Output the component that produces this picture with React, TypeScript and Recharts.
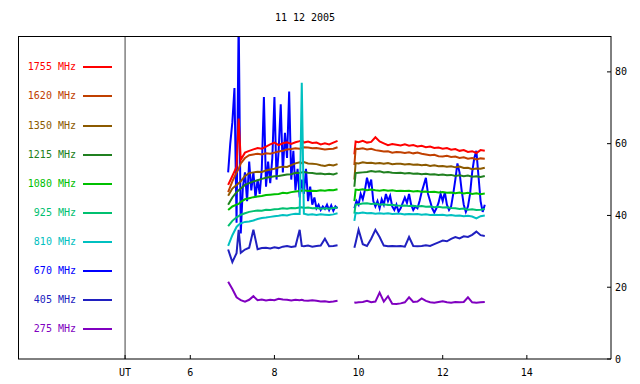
import React from "react";
import { LineChart, Line, XAxis, YAxis, ReferenceLine } from "recharts";

// hours UT; 9.7 is the data gap
const HOURS = [
  6.9, 7.0, 7.1, 7.15, 7.2, 7.3, 7.4, 7.5, 7.6, 7.7, 7.8, 7.9, 8.0, 8.1, 8.2, 8.3, 8.4, 8.5, 8.6, 8.65,
  8.7, 8.8, 8.9, 9.0, 9.1, 9.2, 9.3, 9.4, 9.5,
  9.7,
  9.9, 9.93, 10.0, 10.1, 10.2, 10.3, 10.4, 10.5, 10.6, 10.7, 10.8, 10.9, 11.0, 11.1, 11.2, 11.3, 11.4,
  11.5, 11.6, 11.7, 11.8, 11.9, 12.0, 12.1, 12.2, 12.3, 12.4, 12.5, 12.6, 12.7, 12.8, 12.9, 13.0,
];

const F1755 = [
  48.5, 51, 53.5, 67, 55.5, 57.5, 58, 58.4, 58.8, 58.6, 59.2, 59.8, 60.3, 59.6, 60.1, 60.4, 59.9, 60.4, 60.7, 61,
  60.3, 60.6, 60.2, 60.3, 59.8, 60.1, 59.8, 60.3, 60.8,
  null,
  57, 60.6, 60.4, 60.8, 60.3, 60.5, 61.8, 60.6, 60.1, 59.6, 59.9, 59.7, 59.5, 59.8, 59.4, 59.6, 59.2,
  59.4, 59.0, 59.2, 58.8, 58.9, 58.6, 58.8, 58.3, 58.5, 58.0, 58.2, 57.7, 57.9, 57.4, 58.2, 58.0,
];
const F1620 = [
  46.5, 49.5, 52, 53, 54.5, 56, 56.8, 57, 57.2, 57.0, 57.3, 57.2, 57.5, 57.8, 58.0, 58.4, 58.5, 58.7, 58.6, 58.8,
  59.0, 58.9, 58.7, 58.8, 58.6, 58.4, 58.5, 58.6, 59.0,
  null,
  54, 58.6, 58.5, 58.7, 58.4, 58.6, 58.2, 58.0, 57.8, 57.9, 57.5, 57.7, 57.6, 57.4, 57.6, 57.3, 57.5,
  57.2, 57.0, 56.8, 56.9, 56.5, 56.4, 56.6, 56.3, 56.4, 56.0, 56.2, 55.8, 56.0, 55.6, 55.9, 55.8,
];
const F1350 = [
  45.5, 47.5, 48.5, 49, 49.5, 51, 51.8, 52, 52.2, 52.1, 52.5, 52.8, 53, 53.4, 53.6, 53.5, 54, 54.5, 54.8, 54.6,
  54.9, 54.5, 54.4, 54.3, 54.0, 53.8, 54.1, 53.9, 54.3,
  null,
  50, 54.6, 54.5, 54.8, 54.6, 54.7, 54.5, 54.6, 54.4, 54.6, 54.3, 54.4, 54.4, 54.2, 54.3, 54.1, 54.2,
  54.0, 54.1, 53.8, 54.0, 53.7, 53.8, 53.6, 53.7, 53.4, 53.6, 53.2, 53.3, 52.9, 53.1, 53.0, 53.3,
];
const F1215 = [
  43, 45, 46.5, 47, 47.5, 48.5, 49, 49.5, 49.8, 50.2, 50.5, 50.7, 50.9, 51.0, 51.2, 51.4, 51.5, 51.9, 51.8, 52,
  52.1, 51.9, 51.8, 51.6, 51.7, 51.5, 51.6, 51.4, 51.8,
  null,
  48, 51.8, 51.9, 52.0, 52.1, 52.4, 52.2, 52.3, 52.0, 52.1, 51.9, 51.8, 51.9, 51.7, 51.8, 51.6, 51.7,
  51.5, 51.6, 51.4, 51.5, 51.3, 51.4, 51.2, 51.3, 51.0, 51.2, 50.9, 51.1, 50.8, 50.9, 50.7, 51.0,
];
const F1080 = [
  41.5, 42.5, 43, 43.2, 43.8, 44.5, 44.8, 45.1, 45.3, 45.4, 45.7, 45.8, 45.9, 46.0, 46.3, 46.2, 46.5, 46.7, 46.8, 46.9,
  47.0, 46.8, 46.9, 46.8, 47.0, 46.9, 47.1, 47.0, 47.3,
  null,
  44, 47.2, 47.1, 47.3, 47.0, 47.2, 47.0, 46.9, 47.1, 46.9, 47.0, 46.8, 46.9, 46.8, 46.9, 46.7, 46.8,
  46.6, 46.7, 46.5, 46.6, 46.4, 46.5, 46.3, 46.4, 46.2, 46.4, 46.1, 46.3, 46.0, 46.2, 45.9, 46.1,
];
const F925 = [
  37, 38.5, 39.5, 39.8, 40.2, 40.6, 41.0, 41.2, 41.4, 41.3, 41.6, 41.5, 41.7, 41.8, 42.0, 41.9, 42.1, 42.0, 42.2, 42.3,
  42.1, 42.2, 42.0, 42.1, 41.9, 42.0, 41.9, 42.1, 42.2,
  null,
  40.5, 43, 43.1, 43.3, 43.4, 43.2, 43.3, 43.0, 43.1, 42.9, 43.0, 42.8, 42.7, 42.8, 42.6, 42.7, 42.5,
  42.6, 42.4, 42.5, 42.3, 42.4, 42.2, 42.3, 42.1, 42.0, 41.8, 41.9, 41.6, 41.7, 41.5, 41.6, 41.8,
];
const F810 = [
  31.5, 34.5, 36.8, 37.4, 37.8, 38.2, 38.3, 38.6, 39.0, 39.3, 39.4, 39.6, 39.8, 39.9, 40.1, 40.0, 40.3, 40.5, 40.4, 77,
  40.5, 40.2, 40.3, 40.1, 40.3, 40.2, 40.1, 40.3, 40.6,
  null,
  38.5, 40.7, 40.6, 40.8, 40.6, 40.7, 40.5, 40.6, 40.5, 40.6, 40.4, 40.5, 40.5, 40.3, 40.4, 40.3, 40.4,
  40.2, 40.3, 40.1, 40.2, 40.1, 40.2, 40.0, 40.1, 39.9, 40.0, 39.8, 39.9, 39.7, 39.2, 39.8, 40.0,
];
const F405 = [
  30.5, 27, 29.5, 36, 29.6, 30.5, 31, 36, 30.6, 30.9, 31.0, 30.8, 31.1, 30.9, 31.3, 31.5, 31.2, 31.4, 36, 31.5,
  31.4, 31.6, 31.3, 31.5, 31.6, 33.5, 31.4, 31.5, 31.7,
  null,
  31, 32.4, 36, 32.0, 31.5, 33.5, 36, 34, 31.6, 31.4, 31.5, 31.4, 31.5, 31.3, 34, 31.5, 31.4,
  31.5, 31.7, 31.5, 32.0, 32.5, 33.0, 32.8, 33.5, 34.0, 33.6, 34.2, 34.0, 34.6, 35.5, 34.5, 34.3,
];
const F275 = [
  21.5, 19.5, 17.2, 16.8, 16.4, 16.0, 16.5, 17.5, 16.4, 16.6, 16.3, 16.5, 16.4, 16.8, 16.6, 16.5, 16.3, 16.5, 16.4, 16.5,
  16.3, 16.2, 16.4, 16.2, 16.0, 16.1, 15.9, 16.0, 16.2,
  null,
  15.8, 15.7, 15.8, 15.9, 16.2, 15.8, 16.0, 18.5, 16.0, 17.5, 15.4, 15.3, 15.5, 15.8, 17.2, 15.9, 16.0,
  16.9, 16.2, 15.8, 15.7, 15.9, 16.1, 15.8, 15.7, 15.9, 15.8, 15.9, 17.2, 15.8, 15.7, 15.8, 15.9,
];

// 670 MHz is sampled finer: [hour, flux]
const F670: [number, number | null][] = [
  [6.9, 52], [6.95, 60], [7.0, 66], [7.05, 75.5], [7.1, 38], [7.15, 95], [7.2, 35], [7.25, 48], [7.3, 52],
  [7.35, 44], [7.4, 55], [7.45, 47], [7.5, 52], [7.55, 45], [7.6, 50], [7.65, 46], [7.7, 53], [7.75, 73],
  [7.8, 48], [7.85, 55], [7.9, 49], [7.95, 56], [8.0, 73], [8.05, 50], [8.1, 58], [8.15, 71], [8.2, 52],
  [8.25, 63], [8.3, 56], [8.35, 74.5], [8.4, 50], [8.45, 58], [8.5, 47], [8.55, 53], [8.6, 45], [8.65, 50],
  [8.7, 46], [8.75, 53], [8.8, 44], [8.85, 48], [8.9, 43], [8.95, 45], [9.0, 42], [9.05, 43], [9.1, 41.5],
  [9.15, 42.5], [9.2, 41.8], [9.25, 43], [9.3, 41.5], [9.35, 42.8], [9.4, 41.3], [9.45, 42.5], [9.5, 42],
  [9.7, null],
  [9.9, 42], [9.95, 44], [10.0, 43], [10.05, 46], [10.1, 44.5], [10.15, 47], [10.2, 50.5], [10.25, 48],
  [10.3, 50], [10.35, 44], [10.4, 42.5], [10.45, 44], [10.5, 42], [10.55, 44.5], [10.6, 43], [10.65, 46],
  [10.7, 44], [10.75, 45.5], [10.8, 42.5], [10.85, 41.5], [10.9, 43], [10.95, 41], [11.0, 42], [11.05, 43.5],
  [11.1, 45], [11.15, 43.5], [11.2, 46], [11.25, 43], [11.3, 41.5], [11.35, 42.5], [11.4, 42], [11.45, 44],
  [11.5, 46.5], [11.55, 48.5], [11.6, 50.5], [11.65, 46], [11.7, 44], [11.75, 42], [11.8, 40.8], [11.85, 42],
  [11.9, 43.5], [11.95, 46], [12.0, 44], [12.05, 46.5], [12.1, 43], [12.15, 41.5], [12.2, 42.5], [12.25, 46],
  [12.3, 50], [12.35, 54.5], [12.4, 52], [12.45, 47], [12.5, 43], [12.55, 41], [12.6, 42.5], [12.65, 46],
  [12.7, 52], [12.75, 56], [12.8, 58], [12.85, 51], [12.9, 44], [12.95, 41], [13.0, 43],
];

const X_TICKS = [4.45, 6, 8, 10, 12, 14];
const Y_TICKS = [0, 20, 40, 60, 80];

const SERIES = [
  { key: "f1755", label: "1755 MHz", color: "#ff0000", values: F1755 },
  { key: "f1620", label: "1620 MHz", color: "#c04000", values: F1620 },
  { key: "f1350", label: "1350 MHz", color: "#8c5a00", values: F1350 },
  { key: "f1215", label: "1215 MHz", color: "#208020", values: F1215 },
  { key: "f1080", label: "1080 MHz", color: "#00c000", values: F1080 },
  { key: "f925", label: "925 MHz", color: "#00c070", values: F925 },
  { key: "f810", label: "810 MHz", color: "#00c0c0", values: F810 },
  { key: "f670", label: "670 MHz", color: "#0000ff", values: null },
  { key: "f405", label: "405 MHz", color: "#2020c0", values: F405 },
  { key: "f275", label: "275 MHz", color: "#8000c0", values: F275 },
];

const rows = HOURS.map((h, i) => {
  const r: Record<string, number | null> = { h };
  SERIES.forEach((s) => {
    if (s.values) r[s.key] = s.values[i];
  });
  return r;
});
const rows670 = F670.map(([h, v]) => ({ h, f670: v }));

const FONT = "'DejaVu Sans Mono', monospace";
const tickStyle = { fill: "#000", fontSize: 10, fontFamily: FONT };

export default function App() {
  return (
    <div style={{ position: "absolute", left: 0, top: 0, width: 640, height: 384, background: "#fff" }}>
      <div
        style={{
          position: "absolute", left: 255, top: 12, width: 100, textAlign: "center",
          fontFamily: FONT, fontSize: 10, color: "#000",
        }}
      >
        11 12 2005
      </div>
      <LineChart width={640} height={384} data={rows} margin={{ top: 36, right: 0, left: 18, bottom: 0 }}>
        <XAxis
          type="number"
          dataKey="h"
          domain={[1.905, 16]}
          ticks={X_TICKS}
          tickFormatter={(v) => (v === 4.45 ? "UT" : String(v))}
          allowDataOverflow
          height={25}
          tickSize={-4}
          tickMargin={14}
          stroke="#000"
          tick={tickStyle}
        />
        <YAxis
          orientation="right"
          domain={[0, 90]}
          ticks={Y_TICKS}
          allowDataOverflow
          width={29}
          tickSize={-4}
          tickMargin={8}
          stroke="#000"
          tick={tickStyle}
        />
        <ReferenceLine x={4.45} stroke="#404040" strokeWidth={1} />
        <Line
          data={rows670}
          dataKey="f670"
          stroke="#0000ff"
          strokeWidth={2}
          dot={false}
          isAnimationActive={false}
        />
        {SERIES.filter((s) => s.values).map((s) => (
          <Line
            key={s.key}
            dataKey={s.key}
            stroke={s.color}
            strokeWidth={2}
            dot={false}
            isAnimationActive={false}
          />
        ))}
      </LineChart>
      <div
        style={{
          position: "absolute", left: 18, top: 36, width: 593, height: 323,
          borderTop: "1px solid #000", borderLeft: "1px solid #000", boxSizing: "border-box",
          pointerEvents: "none",
        }}
      />
      {SERIES.map((s, i) => {
        const y = 67.3 + i * 29.1;
        return (
          <React.Fragment key={s.key}>
            <div
              style={{
                position: "absolute", left: 16, width: 60, top: y - 7, textAlign: "right",
                fontFamily: FONT, fontSize: 10, lineHeight: "14px", color: s.color, whiteSpace: "pre",
              }}
            >
              {s.label}
            </div>
            <div
              style={{
                position: "absolute", left: 83, width: 29, top: Math.round(y) - 1, height: 1.5,
                background: s.color,
              }}
            />
          </React.Fragment>
        );
      })}
    </div>
  );
}
